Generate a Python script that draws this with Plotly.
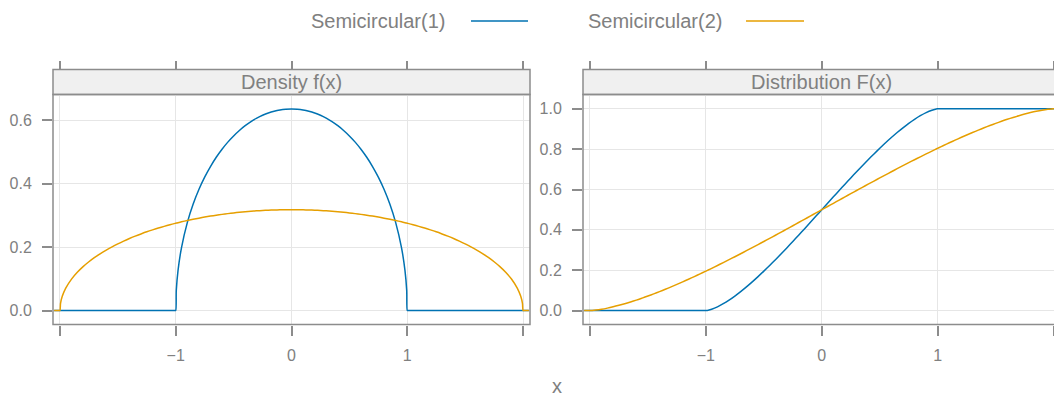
import plotly.graph_objects as go

# Evaluation grid (x) shared by every curve
x_vals = [
    -2.05, -2.005, -2.0, -1.995, -1.98,
    -1.95, -1.9, -1.85, -1.8, -1.75, -1.7, -1.65, -1.6, -1.55, -1.5,
    -1.45, -1.4, -1.35, -1.3, -1.25, -1.2, -1.15, -1.1, -1.05,
    -1.005, -1.0, -0.995, -0.98,
    -0.95, -0.9, -0.85, -0.8, -0.75, -0.7, -0.65, -0.6, -0.55, -0.5,
    -0.45, -0.4, -0.35, -0.3, -0.25, -0.2, -0.15, -0.1, -0.05,
    0.0,
    0.05, 0.1, 0.15, 0.2, 0.25, 0.3, 0.35, 0.4, 0.45, 0.5,
    0.55, 0.6, 0.65, 0.7, 0.75, 0.8, 0.85, 0.9, 0.95,
    0.98, 0.995, 1.0, 1.005,
    1.05, 1.1, 1.15, 1.2, 1.25, 1.3, 1.35, 1.4, 1.45, 1.5,
    1.55, 1.6, 1.65, 1.7, 1.75, 1.8, 1.85, 1.9, 1.95,
    1.98, 1.995, 2.0, 2.005, 2.05,
]

# Density f(x), Semicircular(1)
dens_semi1 = [
    0, 0, 0, 0, 0,
    0, 0, 0, 0, 0, 0, 0, 0, 0, 0,
    0, 0, 0, 0, 0, 0, 0, 0, 0,
    0, 0, 0.0636, 0.1267,
    0.1988, 0.2775, 0.3354, 0.3820, 0.4211, 0.4546, 0.4838, 0.5093, 0.5317, 0.5513,
    0.5685, 0.5835, 0.5964, 0.6073, 0.6164, 0.6238, 0.6294, 0.6334, 0.6358,
    0.6366,
    0.6358, 0.6334, 0.6294, 0.6238, 0.6164, 0.6073, 0.5964, 0.5835, 0.5685, 0.5513,
    0.5317, 0.5093, 0.4838, 0.4546, 0.4211, 0.3820, 0.3354, 0.2775, 0.1988,
    0.1267, 0.0636, 0, 0,
    0, 0, 0, 0, 0, 0, 0, 0, 0, 0,
    0, 0, 0, 0, 0, 0, 0, 0, 0,
    0, 0, 0, 0, 0,
]

# Density f(x), Semicircular(2)
dens_semi2 = [
    0, 0, 0, 0.0225, 0.0449,
    0.0707, 0.0994, 0.1209, 0.1387, 0.1541, 0.1677, 0.1799, 0.1910, 0.2012, 0.2105,
    0.2192, 0.2273, 0.2349, 0.2419, 0.2485, 0.2546, 0.2604, 0.2658, 0.2709,
    0.2752, 0.2757, 0.2761, 0.2775,
    0.2801, 0.2843, 0.2881, 0.2917, 0.2951, 0.2982, 0.3010, 0.3036, 0.3060, 0.3082,
    0.3101, 0.3119, 0.3134, 0.3147, 0.3158, 0.3167, 0.3174, 0.3179, 0.3182,
    0.3183,
    0.3182, 0.3179, 0.3174, 0.3167, 0.3158, 0.3147, 0.3134, 0.3119, 0.3101, 0.3082,
    0.3060, 0.3036, 0.3010, 0.2982, 0.2951, 0.2917, 0.2881, 0.2843, 0.2801,
    0.2775, 0.2761, 0.2757, 0.2752,
    0.2709, 0.2658, 0.2604, 0.2546, 0.2485, 0.2419, 0.2349, 0.2273, 0.2192, 0.2105,
    0.2012, 0.1910, 0.1799, 0.1677, 0.1541, 0.1387, 0.1209, 0.0994, 0.0707,
    0.0449, 0.0225, 0, 0, 0,
]

# Distribution F(x), Semicircular(1)
cdf_semi1 = [
    0, 0, 0, 0, 0,
    0, 0, 0, 0, 0, 0, 0, 0, 0, 0,
    0, 0, 0, 0, 0, 0, 0, 0, 0,
    0, 0, 0.0002, 0.0017,
    0.0067, 0.0187, 0.0341, 0.0520, 0.0721, 0.0941, 0.1175, 0.1424, 0.1684, 0.1955,
    0.2235, 0.2523, 0.2818, 0.3119, 0.3425, 0.3735, 0.4049, 0.4364, 0.4682,
    0.5,
    0.5318, 0.5636, 0.5951, 0.6265, 0.6575, 0.6881, 0.7182, 0.7477, 0.7765, 0.8045,
    0.8316, 0.8576, 0.8825, 0.9059, 0.9279, 0.9480, 0.9659, 0.9813, 0.9933,
    0.9983, 0.9998, 1.0, 1.0,
    1, 1, 1, 1, 1, 1, 1, 1, 1, 1,
    1, 1, 1, 1, 1, 1, 1, 1, 1,
    1, 1, 1, 1, 1,
]

# Distribution F(x), Semicircular(2)
cdf_semi2 = [
    0, 0, 0, 0.0001, 0.0006,
    0.0024, 0.0067, 0.0122, 0.0187, 0.0260, 0.0341, 0.0428, 0.0520, 0.0619, 0.0721,
    0.0829, 0.0941, 0.1056, 0.1175, 0.1298, 0.1424, 0.1553, 0.1684, 0.1818,
    0.1941, 0.1955, 0.1969, 0.2010,
    0.2094, 0.2235, 0.2378, 0.2523, 0.2670, 0.2818, 0.2968, 0.3119, 0.3272, 0.3425,
    0.3580, 0.3735, 0.3892, 0.4049, 0.4206, 0.4364, 0.4523, 0.4682, 0.4841,
    0.5,
    0.5159, 0.5318, 0.5477, 0.5636, 0.5794, 0.5951, 0.6108, 0.6265, 0.6420, 0.6575,
    0.6728, 0.6881, 0.7032, 0.7182, 0.7330, 0.7477, 0.7622, 0.7765, 0.7906,
    0.7990, 0.8031, 0.8045, 0.8059,
    0.8182, 0.8316, 0.8447, 0.8576, 0.8702, 0.8825, 0.8944, 0.9059, 0.9171, 0.9279,
    0.9381, 0.9480, 0.9572, 0.9659, 0.9740, 0.9813, 0.9878, 0.9933, 0.9976,
    0.9994, 0.9999, 1.0, 1.0, 1.0,
]

series_names = ["Semicircular(1)", "Semicircular(2)"]
series_colors = ["#0072B2", "#E69F00"]
panel_titles = ["Density f(x)", "Distribution F(x)"]
x_ticks = [-2, -1, 0, 1, 2]
x_tick_text = ["", "\u22121", "0", "1", ""]
dens_ticks = [0.0, 0.2, 0.4, 0.6]
cdf_ticks = [0.0, 0.2, 0.4, 0.6, 0.8, 1.0]
x_label = "x"

FONT = "Liberation Sans, Arial, Helvetica, sans-serif"
TEXT = "#808080"
FRAME = "#8c8c8c"
GRID = "#e6e6e6"
STRIP = "#f0f0f0"

W, H = 1054, 397


def px(v):
    return v / W


def py(v):
    return 1 - v / H


y_dom = [py(324.5), py(94.5)]
strip_top = py(69.5)

panels = [
    dict(left=53, right=530, xr=[-2.06, 2.06], yr=[-0.044, 0.682],
         yt=dens_ticks, ys=[dens_semi1, dens_semi2]),
    dict(left=583, right=1061, xr=[-2.06, 2.003], yr=[-0.069, 1.071],
         yt=cdf_ticks, ys=[cdf_semi1, cdf_semi2]),
]

fig = go.Figure()
layout = {}
shapes = []
annotations = []

for i, p in enumerate(panels):
    n = i + 1
    xa = "x" if n == 1 else f"x{n}"
    ya = "y" if n == 1 else f"y{n}"
    top_n = n + 2
    dom = [px(p["left"]), min(1.0, px(p["right"]))]

    for name, color, yv in zip(series_names, series_colors, p["ys"]):
        fig.add_trace(go.Scatter(
            x=x_vals, y=yv, mode="lines", name=name,
            line=dict(color=color, width=1.5, shape="spline", smoothing=0.8),
            xaxis=xa, yaxis=ya, showlegend=False, hoverinfo="skip",
        ))
    # carrier trace for the tick axis above the strip
    fig.add_trace(go.Scatter(x=[], y=[], xaxis=f"x{top_n}", yaxis=ya,
                             showlegend=False, hoverinfo="skip"))

    tickfont = dict(family=FONT, size=16, color=TEXT)
    layout["xaxis" if n == 1 else f"xaxis{n}"] = dict(
        domain=dom, range=p["xr"], anchor=ya,
        tickvals=x_ticks, ticktext=x_tick_text,
        ticks="outside", ticklen=10, tickwidth=1.5, tickcolor=FRAME,
        ticklabelstandoff=6, tickfont=tickfont,
        showgrid=True, gridcolor=GRID, gridwidth=1,
        zeroline=False, showline=False,
    )
    layout[f"xaxis{top_n}"] = dict(
        overlaying=xa, range=p["xr"], side="top", anchor="free",
        position=strip_top, tickvals=x_ticks,
        ticks="outside", ticklen=9, tickwidth=1.5, tickcolor=FRAME,
        showticklabels=False, showgrid=False, zeroline=False, showline=False,
    )
    layout["yaxis" if n == 1 else f"yaxis{n}"] = dict(
        domain=y_dom, range=p["yr"], anchor=xa,
        tickvals=p["yt"], tickformat=".1f",
        ticks="outside", ticklen=10, tickwidth=1.5, tickcolor=FRAME,
        ticklabelstandoff=7, tickfont=tickfont,
        showgrid=True, gridcolor=GRID, gridwidth=1,
        zeroline=False, showline=False,
    )

    x0, x1 = px(p["left"]), px(p["right"])
    # strip header
    shapes.append(dict(type="rect", xref="paper", yref="paper",
                       x0=x0, x1=x1, y0=y_dom[1], y1=strip_top,
                       fillcolor=STRIP, line=dict(color=FRAME, width=1.5),
                       layer="below"))
    # panel frame
    shapes.append(dict(type="rect", xref="paper", yref="paper",
                       x0=x0, x1=x1, y0=y_dom[0], y1=y_dom[1],
                       line=dict(color=FRAME, width=1.5)))
    annotations.append(dict(
        text=panel_titles[i], xref="paper", yref="paper",
        x=(x0 + x1) / 2, y=(y_dom[1] + strip_top) / 2,
        xanchor="center", yanchor="middle", showarrow=False,
        font=dict(family=FONT, size=20, color=TEXT),
    ))

# key above the panels: label followed by a line sample
key_items = [(447, 471, 528), (724, 746, 804)]
for (txt_right, l0, l1), name, color in zip(key_items, series_names, series_colors):
    annotations.append(dict(
        text=name, xref="paper", yref="paper", x=px(txt_right), y=py(21),
        xanchor="right", yanchor="middle", showarrow=False,
        font=dict(family=FONT, size=20, color=TEXT),
    ))
    shapes.append(dict(type="line", xref="paper", yref="paper",
                       x0=px(l0), x1=px(l1), y0=py(21), y1=py(21),
                       line=dict(color=color, width=1.5)))

annotations.append(dict(
    text=x_label, xref="paper", yref="paper", x=px(557), y=py(386),
    xanchor="center", yanchor="middle", showarrow=False,
    font=dict(family=FONT, size=20, color=TEXT),
))

fig.update_layout(
    **layout,
    shapes=shapes,
    annotations=annotations,
    width=W, height=H, autosize=False,
    margin=dict(l=0, r=0, t=0, b=0),
    paper_bgcolor="white", plot_bgcolor="white",
    showlegend=False,
)

fig.write_html("out.html")
